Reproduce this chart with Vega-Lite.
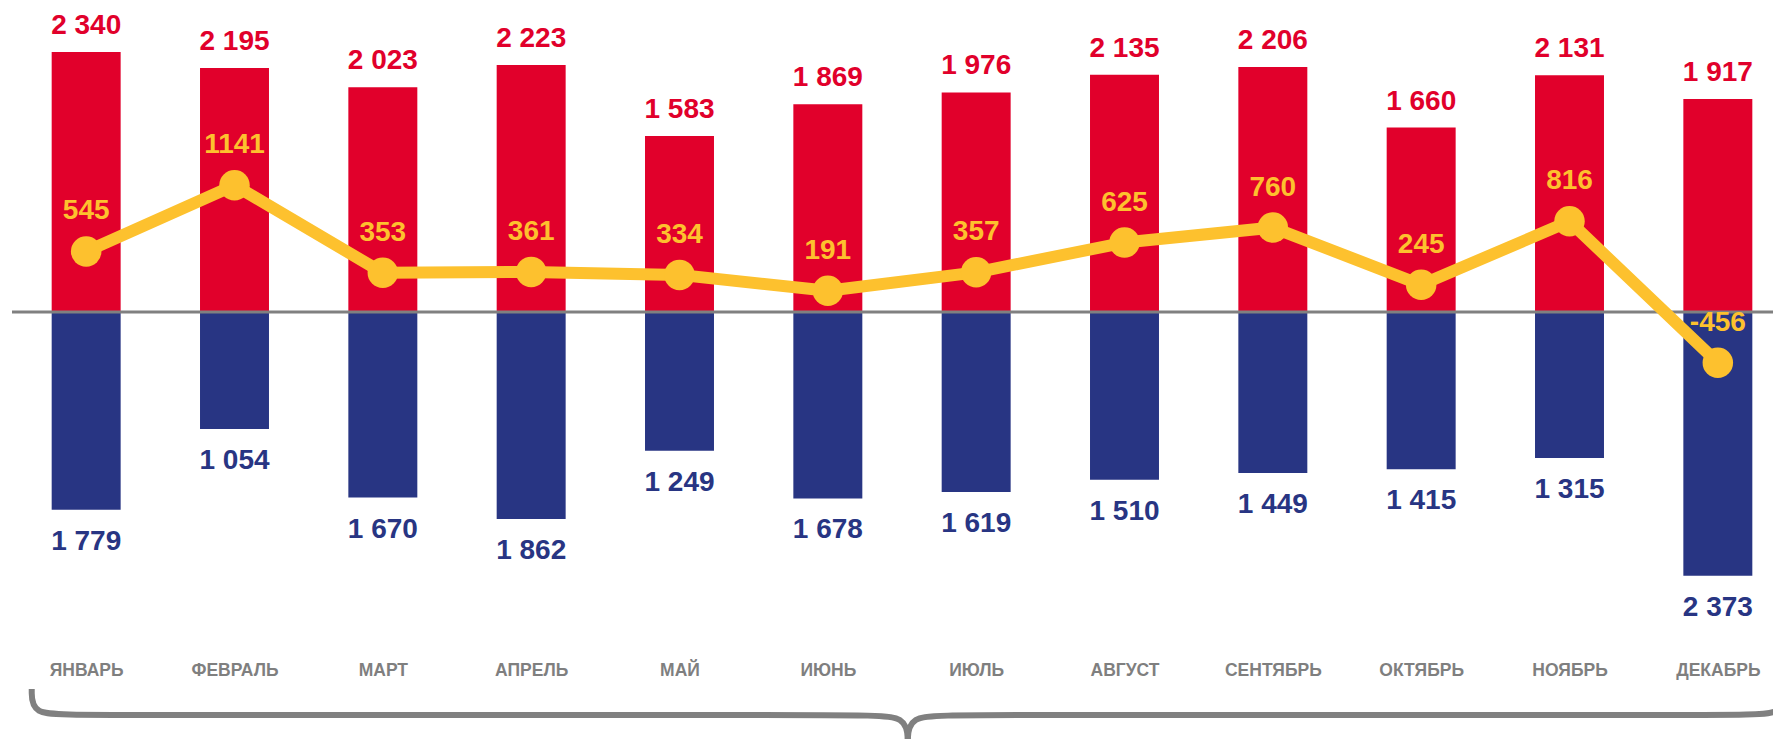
{
  "$schema": "https://vega.github.io/schema/vega-lite/v6.json",
  "width": 1761,
  "height": 650,
  "autosize": {"type": "none"},
  "padding": {"left": 12, "top": 0, "right": 0, "bottom": 89},
  "background": "white",
  "config": {
    "view": {"stroke": null},
    "locale": {"number": {"decimal": ",", "thousands": " ", "grouping": [3], "currency": ["", ""], "minus": "-"}},
    "axis": {"ticks": false, "tickSize": 0, "domain": false, "grid": false, "title": null}
  },
  "datasets": {
    "months": [
      {"m": "ЯНВАРЬ", "inc": 2340, "out": 1779, "bal": 545},
      {"m": "ФЕВРАЛЬ", "inc": 2195, "out": 1054, "bal": 1141},
      {"m": "МАРТ", "inc": 2023, "out": 1670, "bal": 353},
      {"m": "АПРЕЛЬ", "inc": 2223, "out": 1862, "bal": 361},
      {"m": "МАЙ", "inc": 1583, "out": 1249, "bal": 334},
      {"m": "ИЮНЬ", "inc": 1869, "out": 1678, "bal": 191},
      {"m": "ИЮЛЬ", "inc": 1976, "out": 1619, "bal": 357},
      {"m": "АВГУСТ", "inc": 2135, "out": 1510, "bal": 625},
      {"m": "СЕНТЯБРЬ", "inc": 2206, "out": 1449, "bal": 760},
      {"m": "ОКТЯБРЬ", "inc": 1660, "out": 1415, "bal": 245},
      {"m": "НОЯБРЬ", "inc": 2131, "out": 1315, "bal": 816},
      {"m": "ДЕКАБРЬ", "inc": 1917, "out": 2373, "bal": -456}
    ],
    "brace": [
      {"i": 0, "half": "L", "bx": 0.133, "by": -3393},
      {"i": 1, "half": "L", "bx": 0.133, "by": -3627},
      {"i": 2, "half": "L", "bx": 0.425, "by": -3627},
      {"i": 3, "half": "L", "bx": 5.717, "by": -3627},
      {"i": 4, "half": "L", "bx": 6.039, "by": -3627},
      {"i": 5, "half": "L", "bx": 6.039, "by": -3897},
      {"i": 6, "half": "R", "bx": 6.039, "by": -3897},
      {"i": 7, "half": "R", "bx": 6.039, "by": -3627},
      {"i": 8, "half": "R", "bx": 6.361, "by": -3627},
      {"i": 9, "half": "R", "bx": 11.653, "by": -3627},
      {"i": 10, "half": "R", "bx": 11.945, "by": -3627},
      {"i": 11, "half": "R", "bx": 11.945, "by": -3393}
    ]
  },
  "resolve": {"scale": {"x": "independent", "y": "independent"}, "axis": {"x": "independent", "y": "independent"}},
  "layer": [
    {
      "data": {"name": "months"},
      "mark": {"type": "bar", "width": {"band": 0.465}, "color": "#E1002B"},
      "encoding": {
        "x": {"field": "m", "type": "nominal", "sort": null, "scale": {"range": [0, 1780], "paddingInner": 0, "paddingOuter": 0}, "axis": null},
        "y": {"field": "inc", "type": "quantitative", "scale": {"domain": [-3042, 2808], "nice": false, "zero": false}, "axis": null}
      }
    },
    {
      "data": {"name": "months"},
      "mark": {"type": "bar", "width": {"band": 0.465}, "color": "#283583"},
      "encoding": {
        "x": {"field": "m", "type": "nominal", "sort": null, "scale": {"range": [0, 1780], "paddingInner": 0, "paddingOuter": 0}, "axis": null},
        "y": {"field": "out", "type": "quantitative", "scale": {"domain": [-2808, 3042], "reverse": true, "nice": false, "zero": false}, "axis": null}
      }
    },
    {
      "data": {"name": "months"},
      "mark": {"type": "text", "font": "Liberation Sans", "fontWeight": "bold", "fontSize": 28, "color": "#283583", "baseline": "alphabetic", "align": "center", "dy": 40},
      "encoding": {
        "x": {"field": "m", "type": "nominal", "sort": null, "scale": {"range": [0, 1780], "paddingInner": 0, "paddingOuter": 0}, "axis": null},
        "y": {"field": "out", "type": "quantitative", "scale": {"domain": [-2808, 3042], "reverse": true, "nice": false, "zero": false}, "axis": null},
        "text": {"field": "out", "type": "quantitative", "format": ",d"}
      }
    },
    {
      "data": {"values": [{}]},
      "mark": {"type": "rule", "color": "#808080", "strokeWidth": 3},
      "encoding": {
        "y": {"datum": 0, "type": "quantitative", "scale": {"domain": [-3042, 2808], "nice": false, "zero": false}, "axis": null}
      }
    },
    {
      "data": {"name": "months"},
      "mark": {"type": "line", "color": "#FDC12E", "strokeWidth": 12, "strokeJoin": "round", "strokeCap": "round"},
      "encoding": {
        "x": {"field": "m", "type": "nominal", "sort": null, "scale": {"range": [0, 1780], "paddingInner": 0, "paddingOuter": 0},
          "axis": {"labelFont": "Liberation Sans", "labelFontWeight": "bold", "labelFontSize": 17.5, "labelColor": "#7F7F7F", "labelPadding": 25, "labelBaseline": "alphabetic", "labelAngle": 0, "labelOverlap": false, "orient": "bottom"}},
        "y": {"field": "bal", "type": "quantitative", "scale": {"domain": [-3042, 2808], "nice": false, "zero": false}, "axis": null}
      }
    },
    {
      "data": {"name": "months"},
      "mark": {"type": "circle", "color": "#FDC12E", "opacity": 1, "size": 930},
      "encoding": {
        "x": {"field": "m", "type": "nominal", "sort": null, "scale": {"range": [0, 1780], "paddingInner": 0, "paddingOuter": 0}, "axis": null},
        "y": {"field": "bal", "type": "quantitative", "scale": {"domain": [-3042, 2808], "nice": false, "zero": false}, "axis": null}
      }
    },
    {
      "data": {"name": "months"},
      "mark": {"type": "text", "font": "Liberation Sans", "fontWeight": "bold", "fontSize": 28, "color": "#E1002B", "baseline": "alphabetic", "align": "center", "dy": -18},
      "encoding": {
        "x": {"field": "m", "type": "nominal", "sort": null, "scale": {"range": [0, 1780], "paddingInner": 0, "paddingOuter": 0}, "axis": null},
        "y": {"field": "inc", "type": "quantitative", "scale": {"domain": [-3042, 2808], "nice": false, "zero": false}, "axis": null},
        "text": {"field": "inc", "type": "quantitative", "format": ",d"}
      }
    },
    {
      "data": {"name": "months"},
      "mark": {"type": "text", "font": "Liberation Sans", "fontWeight": "bold", "fontSize": 28, "color": "#FDC12E", "baseline": "alphabetic", "align": "center", "dy": -32},
      "encoding": {
        "x": {"field": "m", "type": "nominal", "sort": null, "scale": {"range": [0, 1780], "paddingInner": 0, "paddingOuter": 0}, "axis": null},
        "y": {"field": "bal", "type": "quantitative", "scale": {"domain": [-3042, 2808], "nice": false, "zero": false}, "axis": null},
        "text": {"field": "bal", "type": "quantitative", "format": "d"}
      }
    },
    {
      "data": {"name": "brace"},
      "mark": {"type": "line", "color": "#808080", "strokeWidth": 6, "interpolate": "basis"},
      "encoding": {
        "x": {"field": "bx", "type": "quantitative", "scale": {"domain": [0, 12], "range": [0, 1780], "nice": false, "zero": false}, "axis": null},
        "y": {"field": "by", "type": "quantitative", "scale": {"domain": [-3042, 2808], "nice": false, "zero": false}, "axis": null},
        "detail": {"field": "half"},
        "order": {"field": "i", "type": "quantitative"}
      }
    }
  ]
}
